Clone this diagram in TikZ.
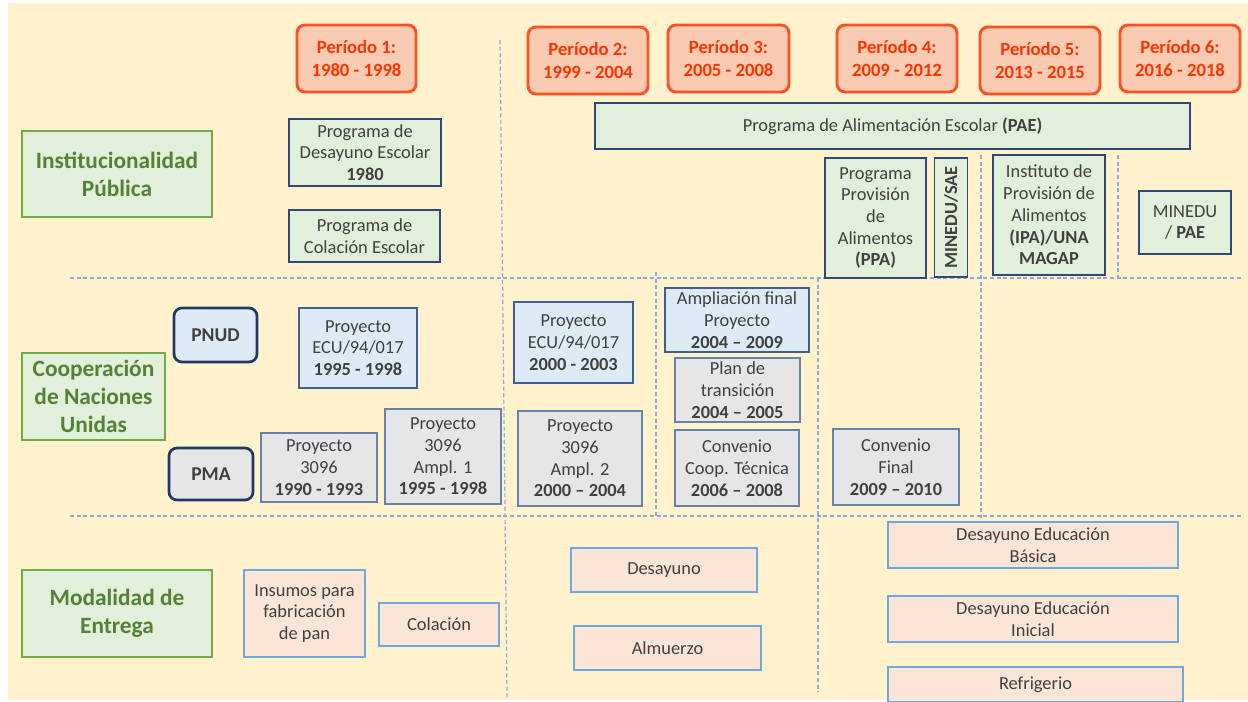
\documentclass[tikz,border=0pt]{standalone}
\usepackage{fontspec}
\setmainfont{Carlito}
\definecolor{bgyel}{HTML}{FFF2CC}
\definecolor{perfill}{HTML}{F8CBB2}
\definecolor{perdraw}{HTML}{FF5224}
\definecolor{pertext}{HTML}{FF3300}
\definecolor{catfill}{HTML}{E2EFDA}
\definecolor{catdraw}{HTML}{70AD47}
\definecolor{cattext}{HTML}{548235}
\definecolor{navy}{HTML}{1F3864}
\definecolor{instdraw}{HTML}{2F4A78}
\definecolor{bluefill}{HTML}{DEEBF7}
\definecolor{blueline}{HTML}{3F5F96}
\definecolor{grayfill}{HTML}{E7E6E6}
\definecolor{grayline}{HTML}{6482AA}
\definecolor{modfill}{HTML}{FBE5D6}
\definecolor{modline}{HTML}{6FA8DC}
\definecolor{dashcol}{HTML}{8EA9DB}
\definecolor{txt}{HTML}{404040}
\newcommand\bx[7]{\node[#6, minimum width={(#4-#2)*0.75pt}, minimum height={(#5-#3)*0.75pt}] (#1) at ({(#2+#4)/2},{(#3+#5)/2}) {#7};}
\tikzset{
  base/.style={inner sep=0pt, outer sep=0pt, align=center, text=txt, font=\fontsize{13.8}{16.3}\selectfont},
  period/.style={base, rounded corners=6pt, fill=perfill, draw=perdraw, line width=2.2pt, text=pertext, font=\fontsize{14}{17.5}\selectfont\bfseries},
  catbox/.style={base, fill=catfill, draw=catdraw, line width=2.2pt, text=cattext, font=\fontsize{17.5}{21}\selectfont\bfseries},
  instbox/.style={base, fill=catfill, draw=instdraw, line width=0.9pt},
  agency/.style={base, rounded corners=6pt, draw=navy, line width=2pt, font=\fontsize{14.7}{16.3}\selectfont\bfseries},
  bluebox/.style={base, fill=bluefill, draw=blueline, line width=0.9pt},
  graybox/.style={base, fill=grayfill, draw=grayline, line width=0.9pt},
  modbox/.style={base, fill=modfill, draw=modline, line width=0.9pt},
  grid/.style={draw=dashcol, line width=0.9pt, dash pattern=on 3pt off 2pt}
}
\begin{document}
\begin{tikzpicture}[x=0.75pt, y=-0.75pt]
\useasboundingbox (0,0) rectangle (1248,702);
\fill[white] (0,0) rectangle (1248,702);
\fill[bgyel] (8,3) rectangle (1248,700);
% grid lines
\coordinate (h1a) at (70,278); \coordinate (h1b) at (1242,278);
\coordinate (h2a) at (70,516); \coordinate (h2b) at (1242,516);
\draw[grid] (h1a) -- (h1b);
\draw[grid] (h2a) -- (h2b);
\draw[grid] (500,40) -- (507,697);
\draw[grid] (656,272) -- (656,518);
\draw[grid] (818,278) -- (818,692);
\draw[grid] (981,155) -- (981,518);
\draw[grid] (1118,155) -- (1118,278);
% periods
\bx{p1}{297}{25}{416}{92}{period}{Período 1:\\1980 - 1998}
\bx{p2}{528}{27}{648}{94}{period}{Período 2:\\1999 - 2004}
\bx{p3}{668}{25}{789}{92}{period}{Período 3:\\2005 - 2008}
\bx{p4}{837}{25}{957}{92}{period}{Período 4:\\2009 - 2012}
\bx{p5}{980}{27}{1100}{94}{period}{Período 5:\\2013 - 2015}
\bx{p6}{1120}{25}{1240}{92}{period}{Período 6:\\2016 - 2018}
% categories
\bx{c1}{22}{131}{212}{217}{catbox}{Institucionalidad\\Pública}
\bx{c2}{22}{353}{165}{440}{catbox}{Cooperación\\de Naciones\\Unidas}
\bx{c3}{22}{570}{212}{657}{catbox}{Modalidad de\\Entrega}
% institucionalidad
\bx{pde}{289}{119}{441}{186}{instbox}{Programa de\\Desayuno Escolar\\\textbf{1980}}
\bx{pce}{289}{210}{440}{262}{instbox}{Programa de\\Colación Escolar}
\bx{pae}{595}{103}{1190}{149}{instbox}{Programa de Alimentación Escolar \textbf{(PAE)}}
\bx{ppa}{825}{158}{926}{278}{instbox}{Programa\\Provisión\\de\\Alimentos\\\textbf{(PPA)}}
\node[instbox, rotate=90, minimum width={119*0.75pt}, minimum height={33*0.75pt}] (sae) at (951,217.5) {\textbf{MINEDU/SAE}};
\bx{ipa}{993}{155}{1105}{275}{instbox}{Instituto de\\Provisión de\\Alimentos\\\textbf{(IPA)/UNA}\\\textbf{MAGAP}}
\bx{mpae}{1139}{191}{1231}{254}{instbox}{MINEDU\\/ \textbf{PAE}}
% cooperacion
\bx{pnud}{174}{308}{257}{362}{agency, fill=bluefill}{PNUD}
\bx{pma}{169}{448}{253}{500}{agency, fill=grayfill}{PMA}
\bx{e1}{299}{308}{417}{388}{bluebox}{Proyecto\\ECU/94/017\\\textbf{1995 - 1998}}
\bx{w1}{261}{433}{377}{502}{graybox}{Proyecto\\3096\\\textbf{1990 - 1993}}
\bx{w2}{385}{409}{501}{504}{graybox}{Proyecto\\3096\\Ampl. 1\\\textbf{1995 - 1998}}
\bx{e2}{514}{302}{633}{383}{bluebox}{Proyecto\\ECU/94/017\\\textbf{2000 - 2003}}
\bx{w3}{518}{411}{642}{506}{graybox}{Proyecto\\3096\\Ampl. 2\\\textbf{2000 – 2004}}
\bx{af}{665}{288}{809}{352}{bluebox}{Ampliación final\\Proyecto\\\textbf{2004 – 2009}}
\bx{pt}{675}{358}{800}{422}{graybox}{Plan de\\transición\\\textbf{2004 – 2005}}
\bx{cct}{675}{430}{799}{506}{graybox}{Convenio\\Coop. Técnica\\\textbf{2006 – 2008}}
\bx{cf}{833}{429}{959}{505}{graybox}{Convenio\\Final\\\textbf{2009 – 2010}}
% modalidad
\bx{ins}{244}{570}{365}{657}{modbox}{Insumos para\\fabricación\\de pan}
\bx{col}{379}{603}{499}{646}{modbox}{Colación}
\bx{des}{571}{548}{757}{592}{modbox}{Desayuno}
\bx{alm}{574}{626}{761}{670}{modbox}{Almuerzo}
\bx{deb}{888}{522}{1178}{568}{modbox}{Desayuno Educación\\Básica}
\bx{dei}{888}{596}{1178}{642}{modbox}{Desayuno Educación\\Inicial}
\bx{ref}{888}{667}{1183}{702}{modbox}{Refrigerio}
\end{tikzpicture}
\end{document}
